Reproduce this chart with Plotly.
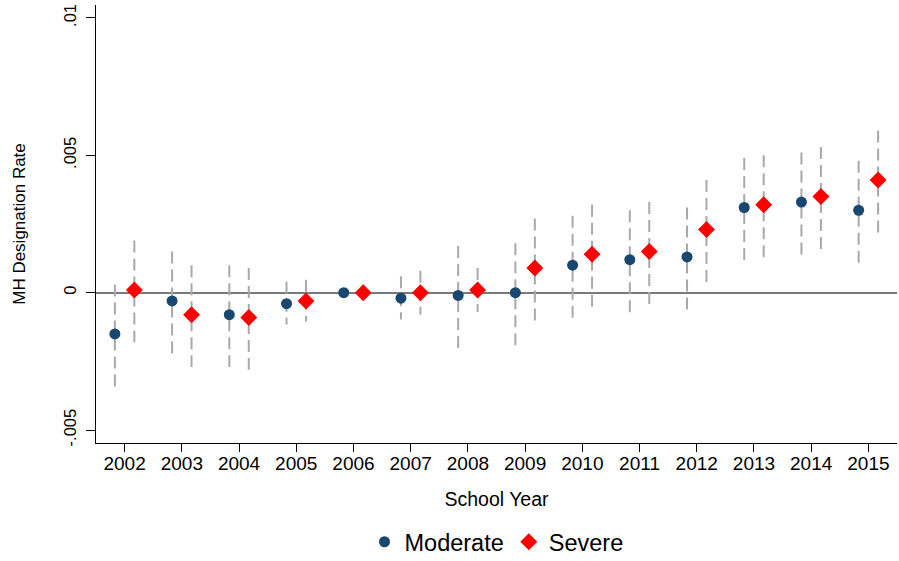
import plotly.graph_objects as go

years = list(range(2002, 2016))
moderate = [-0.0015, -0.0003, -0.0008, -0.0004, 0.0, -0.0002, -0.0001, 0.0, 0.0010, 0.0012, 0.0013, 0.0031, 0.0033, 0.0030]
moderate_lo = [-0.00345, -0.0022, -0.0027, -0.00116, 0.0, -0.00098, -0.00205, -0.00195, -0.00096, -0.00073, -0.00065, 0.0011, 0.00135, 0.00105]
moderate_hi = [0.0003, 0.0015, 0.0010, 0.0004, 0.0, 0.0006, 0.0017, 0.0018, 0.0028, 0.0030, 0.0031, 0.0049, 0.0051, 0.0048]
severe = [0.0001, -0.0008, -0.0009, -0.0003, 0.0, 0.0, 0.0001, 0.0009, 0.0014, 0.0015, 0.0023, 0.0032, 0.0035, 0.0041]
severe_lo = [-0.0018, -0.0027, -0.0028, -0.00105, 0.0, -0.0008, -0.0007, -0.00104, -0.00057, -0.00047, 0.00036, 0.00127, 0.00153, 0.0021]
severe_hi = [0.0019, 0.0010, 0.0009, 0.00047, 0.0, 0.0008, 0.0009, 0.0027, 0.0032, 0.0033, 0.0041, 0.0050, 0.0053, 0.0059]
y_tickvals = [-0.005, 0, 0.005, 0.01]
y_ticktext = ["-.005", "0", ".005", ".01"]

OFFSET = 0.17
FONT = "Liberation Sans, Arial, Helvetica, sans-serif"


def ci_segments(xs, lo, hi, off):
    sx, sy = [], []
    for x, a, b in zip(xs, lo, hi):
        sx += [x + off, x + off, None]
        sy += [b, a, None]
    return sx, sy


fig = go.Figure()
for lo, hi, off in [(moderate_lo, moderate_hi, -OFFSET), (severe_lo, severe_hi, OFFSET)]:
    sx, sy = ci_segments(years, lo, hi, off)
    fig.add_trace(go.Scatter(x=sx, y=sy, mode="lines", showlegend=False, hoverinfo="skip",
                             line=dict(color="#a9a9a9", width=2, dash="12px,6px")))

fig.add_trace(go.Scatter(x=[y - OFFSET for y in years], y=moderate, mode="markers", name="Moderate",
                         marker=dict(symbol="circle", size=11, color="#1a476f")))
fig.add_trace(go.Scatter(x=[y + OFFSET for y in years], y=severe, mode="markers", name="Severe",
                         marker=dict(symbol="diamond", size=13, color="#ff0000")))

fig.update_layout(
    width=899, height=561,
    margin=dict(l=96, r=2, t=5, b=118, autoexpand=False),
    paper_bgcolor="white", plot_bgcolor="white",
    font=dict(family=FONT, color="black"),
    showlegend=True,
    legend=dict(orientation="h", x=0.5, xanchor="center", y=-0.226, yanchor="middle",
                font=dict(size=23.5, family=FONT), itemwidth=30, traceorder="normal"),
    xaxis=dict(range=[2001.5, 2015.5], tickvals=years, ticktext=[str(y) for y in years],
               automargin=False,
               showline=True, linecolor="black", linewidth=1, ticks="outside", ticklen=8,
               tickcolor="black", showgrid=False, zeroline=False, ticklabelstandoff=-5,
               tickfont=dict(size=19, family=FONT),
               title=dict(text="School Year", font=dict(size=19.5, family=FONT), standoff=19)),
    yaxis=dict(range=[-0.00547, 0.01047], tickvals=y_tickvals, ticktext=y_ticktext, tickangle=-90,
               automargin=False,
               showline=True, linecolor="black", linewidth=1, ticks="outside", ticklen=9,
               tickcolor="black", showgrid=False, ticklabelstandoff=3,
               zeroline=True, zerolinecolor="#7a7a7a", zerolinewidth=1.6,
               tickfont=dict(size=16.5, family=FONT),
               title=dict(text="MH Designation Rate", font=dict(size=17, family=FONT), standoff=31)),
)

fig.write_html("out.html", post_script="document.body.style.margin='0';",
               config={"displayModeBar": False})
